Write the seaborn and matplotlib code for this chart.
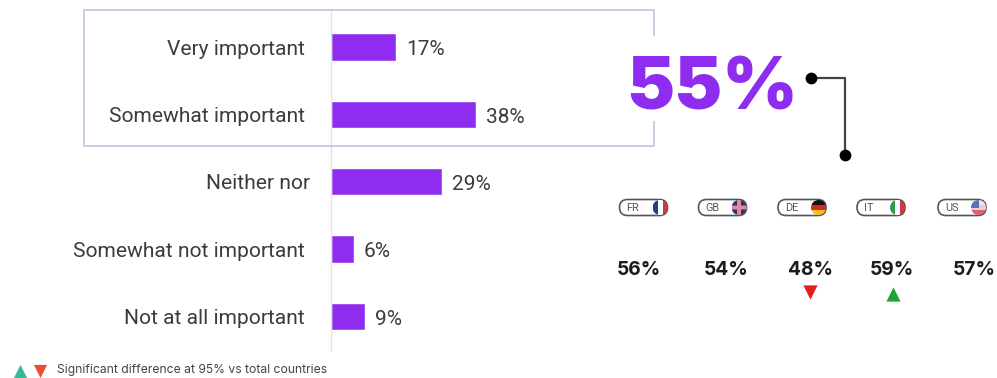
import matplotlib
matplotlib.use("Agg")
import matplotlib.pyplot as plt
from matplotlib.patches import Rectangle, FancyBboxPatch
from matplotlib.transforms import ScaledTranslation
import pandas as pd
import seaborn as sns

W, H = 997, 378

categories = ["Very important", "Somewhat important", "Neither nor",
              "Somewhat not important", "Not at all important"]
shares = [17, 38, 29, 6, 9]
headline = "55%"
countries = ["FR", "GB", "DE", "IT", "US"]
country_shares = [56, 54, 48, 59, 57]
country_flags = {
    "FR": ["#1f3f8f", "#ffffff", "#d8343f"],
    "GB": ["#26357a", "#d5394a", "#26357a"],
    "DE": ["#111111", "#d62a20", "#f2c21a"],
    "IT": ["#2f9a4a", "#ffffff", "#cf3a3a"],
    "US": ["#e6e6f0", "#f3c9cd", "#d9636d"],
}
significance = {"DE": "down", "IT": "up"}
footnote = "Significant difference at 95% vs total countries"

PURPLE = "#8e2df0"
FRAME = "#cbbfdc"
TEXT = "#3c3c3c"

sns.set_theme(style="white")
plt.rcParams["font.family"] = ["Liberation Sans", "DejaVu Sans"]

fig = plt.figure(figsize=(W / 100, H / 100), dpi=100, facecolor="white")

# Overlay in pixel coordinates for the callout frame, flags and footnote
ov = fig.add_axes([0, 0, 1, 1], zorder=3)
ov.set_xlim(0, W)
ov.set_ylim(H, 0)
ov.axis("off")
ov.patch.set_alpha(0)

# Horizontal bar chart, zero at x=331 px
px_per_pct = 3.82
top_px, bottom_px = 10, 350
ax = fig.add_axes([331 / W, 1 - bottom_px / H, 60 * px_per_pct / W, (bottom_px - top_px) / H],
                  zorder=2)
ax.patch.set_alpha(0)
df = pd.DataFrame({"category": categories, "share": shares})
sns.barplot(data=df, x="share", y="category", color=PURPLE, saturation=1, width=0.41,
            orient="h", ax=ax)
ax.set_xlim(0, 60)
ax.set_ylim(4.5, -0.55)
ax.set_xlabel("")
ax.set_ylabel("")
ax.set_xticks([])
ax.set_yticks(range(len(categories)))
ax.set_yticklabels(categories, fontsize=15.15, color=TEXT, family="Roboto")
ax.tick_params(axis="y", length=0, pad=18.8)
for side in ["top", "right", "bottom"]:
    ax.spines[side].set_visible(False)
ax.spines["left"].set_color("#e2e2e2")
ax.spines["left"].set_linewidth(1)

# The middle row's label sits a little closer to the axis
middle = ax.get_yticklabels()[2]
middle.set_transform(middle.get_transform() + ScaledTranslation(5 / 100, 0, fig.dpi_scale_trans))

for bar, value in zip(ax.patches, shares):
    ax.annotate(f"{value}%", (value, bar.get_y() + bar.get_height() / 2),
                xytext=(7.2, -2), textcoords="offset points", va="center", ha="left",
                fontsize=15, color=TEXT, family="Roboto")

# Frame around the two "important" rows, open where the headline sits
ov.plot([654, 654, 84, 84, 654, 654], [36, 10, 10, 146, 146, 121],
        color=FRAME, lw=1.2, solid_capstyle="butt")

ov.text(712.5, 90.5, headline, color=PURPLE, fontsize=52, ha="center", va="center",
        family="Inter", fontweight="black")

# Connector from the headline to the country row
ov.plot([811, 845, 845], [78, 78, 155], color="#444444", lw=1.6, zorder=2)
ov.scatter([811, 845], [78, 155], s=72, color="black", zorder=3, linewidths=0)

# Country pills with a round flag at the right end
pill_x = [643.5, 722.5, 802, 881, 962]
value_x = [639, 726, 810, 892, 974]
pill_y, value_y = 207.5, 270
for code, px, vx, val in zip(countries, pill_x, value_x, country_shares):
    ov.add_patch(FancyBboxPatch((px - 24, pill_y - 8), 48, 16,
                                boxstyle="round,pad=0,rounding_size=8",
                                fc="white", ec="#555555", lw=1.2, zorder=2))
    ov.text(px - 17, pill_y + 0.3, code, fontsize=7.8, color="#555555", ha="left", va="center",
            family="Roboto", zorder=3)
    fx, r = px + 16.5, 7.5
    c1, c2, c3 = country_flags[code]
    clip = plt.Circle((fx, pill_y), r, transform=ov.transData)
    if code in ("FR", "IT"):
        stripes = [Rectangle((fx - r + i * 2 * r / 3, pill_y - r), 2 * r / 3, 2 * r, fc=c, lw=0)
                   for i, c in enumerate((c1, c2, c3))]
    else:
        stripes = [Rectangle((fx - r, pill_y - r + i * 2 * r / 3), 2 * r, 2 * r / 3, fc=c, lw=0)
                   for i, c in enumerate((c1, c2, c3))]
    for s in stripes:
        s.set_zorder(4)
        ov.add_patch(s)
        s.set_clip_path(clip)
    if code == "GB":
        for rect in (Rectangle((fx - r, pill_y - 1.8), 2 * r, 3.6, fc="#e88a95", lw=0),
                     Rectangle((fx - 1.8, pill_y - r), 3.6, 2 * r, fc="#e88a95", lw=0)):
            rect.set_zorder(5)
            ov.add_patch(rect)
            rect.set_clip_path(clip)
    if code == "US":
        canton = Rectangle((fx - r, pill_y - r), r, r, fc="#5b6fb5", lw=0, zorder=5)
        ov.add_patch(canton)
        canton.set_clip_path(clip)
    ov.text(vx, value_y, f"{val}%", fontsize=13.8, color="#1c1c1c", ha="center", va="center",
            family="Inter", fontweight="bold")
    direction = significance.get(code)
    if direction == "down":
        ov.scatter([vx], [292], marker="v", s=105, color="#e0201c", linewidths=0)
    elif direction == "up":
        ov.scatter([vx + 1], [294], marker="^", s=105, color="#1fa532", linewidths=0)

# Footnote with its key
ov.scatter([19.5], [371], marker="^", s=90, color="#35b896", linewidths=0)
ov.scatter([40], [370.5], marker="v", s=90, color="#ea4f35", linewidths=0)
ov.text(57, 370, footnote, fontsize=8.75, color="#444444", ha="left", va="center", family="Inter")

fig.savefig("out.png", dpi=100, facecolor="white")
